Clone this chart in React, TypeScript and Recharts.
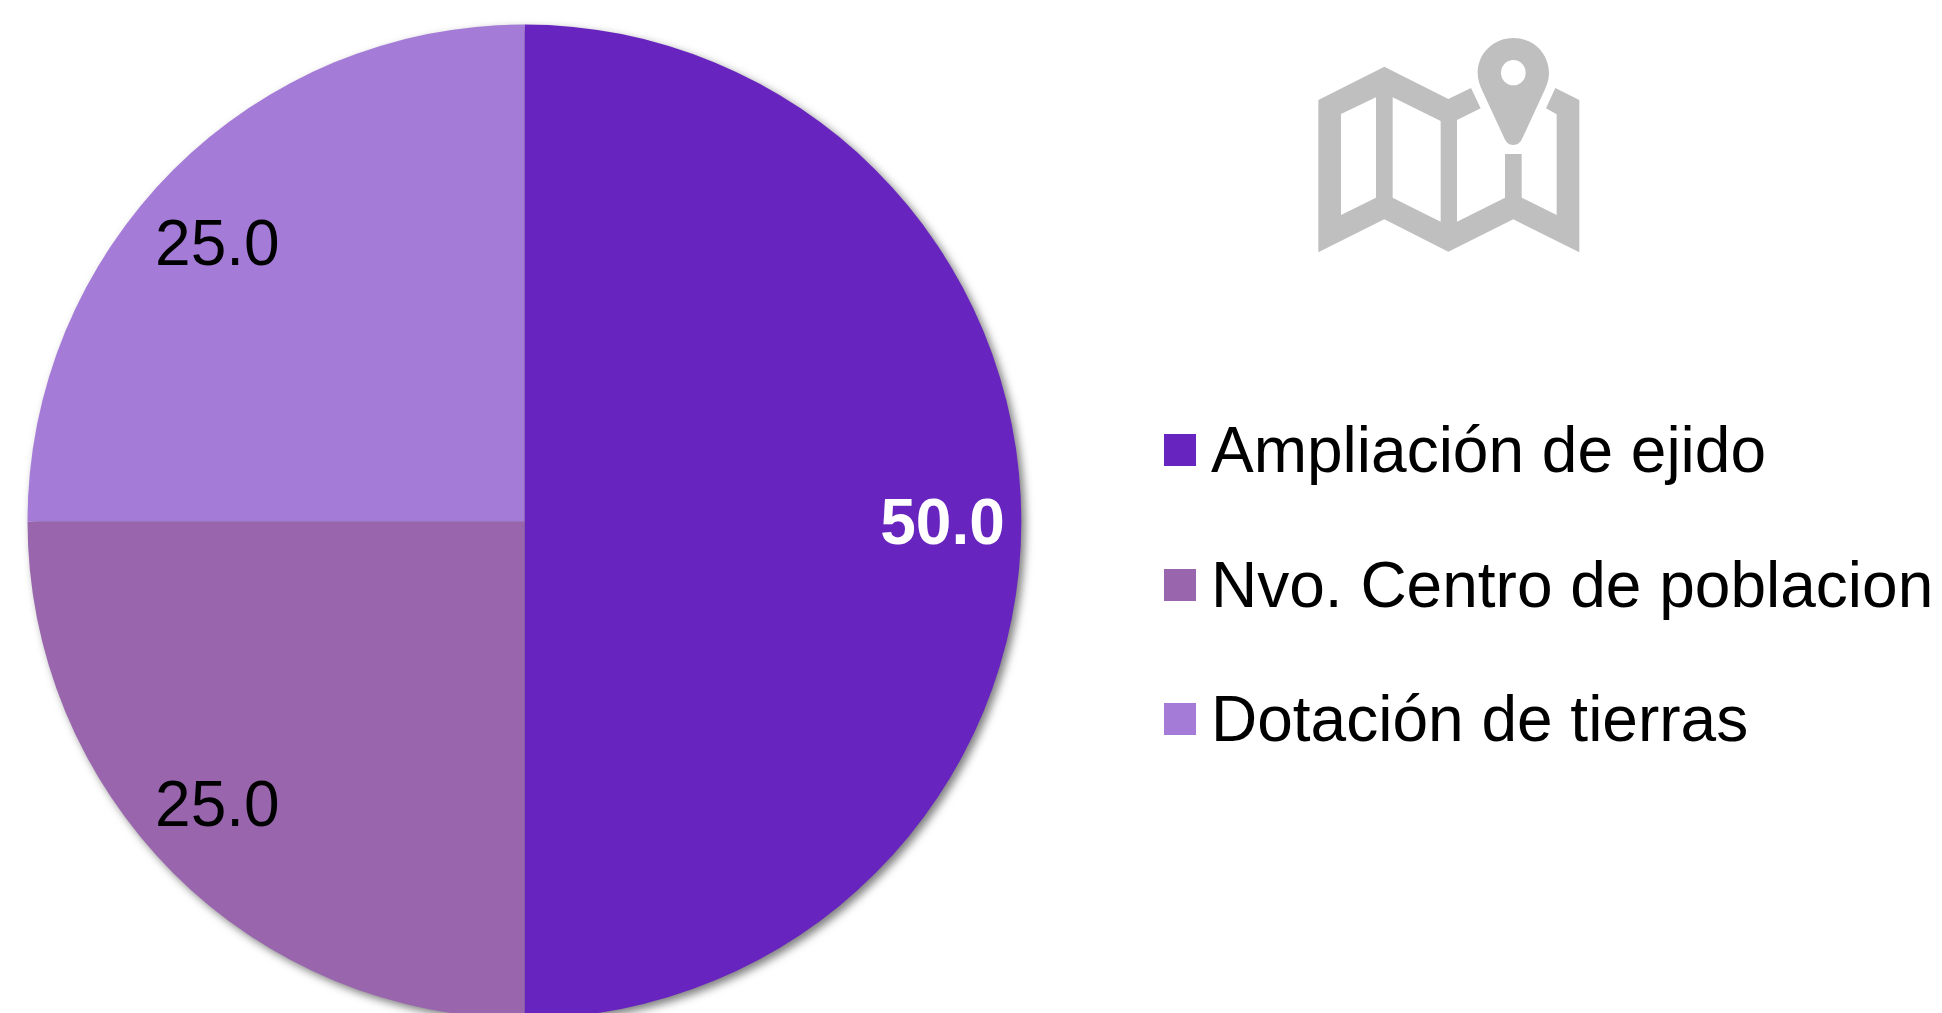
import { PieChart, Pie, Cell, Legend } from "recharts";

const categories = ["Ampliación de ejido", "Nvo. Centro de poblacion", "Dotación de tierras"];
const values = [50, 25, 25];
const colors = ["#6724BF", "#9966AE", "#A57BD8"];
const labelColors = ["#FFFFFF", "#000000", "#000000"];
const labelWeights = ["bold", "normal", "normal"];
// hand placed in the original, so each label gets a small nudge
const labelNudgeX = [2, -13, -13];
const labelNudgeY = [0, -12, 16];

const pieData = categories.map((name, i) => ({ name, value: values[i] }));

const FONT = '"Liberation Sans", Arial, sans-serif';
const RADIAN = Math.PI / 180;

function renderSliceLabel({ cx, cy, midAngle, outerRadius, index, value }: any) {
  const r = outerRadius - 81;
  const x = cx + r * Math.cos(-midAngle * RADIAN) + labelNudgeX[index];
  const y = cy + r * Math.sin(-midAngle * RADIAN) + labelNudgeY[index];
  return (
    <text
      x={x}
      y={y}
      fill={labelColors[index]}
      fontFamily={FONT}
      fontSize={64}
      fontWeight={labelWeights[index]}
      textAnchor="middle"
      dominantBaseline="central"
    >
      {value.toFixed(1)}
    </text>
  );
}

function LegendList({ payload }: any) {
  return (
    <div style={{ fontFamily: FONT, fontSize: 64, color: "#000" }}>
      {(payload || []).map((entry: any) => (
        <div key={entry.value} style={{ display: "flex", alignItems: "center", height: 134.5, whiteSpace: "nowrap" }}>
          <span style={{ width: 32, height: 32, marginRight: 15, backgroundColor: entry.color, display: "inline-block" }} />
          <span>{entry.value}</span>
        </div>
      ))}
    </div>
  );
}

function MapIcon() {
  return (
    <svg
      width={340}
      height={250}
      viewBox="0 0 1020 750"
      style={{ position: "absolute", left: 1280, top: 20 }}
    >
      <path
        fill="#BFBFBF"
        fillRule="evenodd"
        d="M115,240 L313,140 L505,237 L573,204 L602,265 L531,300 L531,605 L675,533 L675,402 L725,402 L725,533 L830,585 L830,283 L798,265 L826,204 L898,240 L898,697 L700,598 L505,695 L313,598 L115,697 Z M183,282 L288,232 L288,533 L183,585 Z M338,232 L482,303 L482,605 L338,533 Z"
      />
      <path
        fill="#BFBFBF"
        fillRule="evenodd"
        d="M700,54 C760,54 807,100 807,160 C807,180 800,197 793,212 L727,355 C720,370 712,375 700,375 C688,375 680,370 673,355 L607,212 C600,197 593,180 593,160 C593,100 640,54 700,54 Z M700,120 A37,38 0 1 0 700,196 A37,38 0 1 0 700,120 Z"
      />
    </svg>
  );
}

export default function App() {
  return (
    <div style={{ position: "fixed", left: 0, top: 0, width: 1942, height: 1013, overflow: "hidden", background: "#fff" }}>
      <style>{`g:has(> .recharts-pie-sector) { filter: drop-shadow(4px 4px 4px rgba(0,0,0,0.5)); }`}</style>
      <PieChart width={1942} height={1013} margin={{ top: 0, right: 0, bottom: 0, left: 0 }}>
        <Pie
          data={pieData}
          dataKey="value"
          nameKey="name"
          cx={524.5}
          cy={521.5}
          innerRadius={0}
          outerRadius={497}
          startAngle={90}
          endAngle={-270}
          stroke="none"
          labelLine={false}
          label={renderSliceLabel}
          isAnimationActive={false}
        >
          {pieData.map((d, i) => (
            <Cell key={d.name} fill={colors[i]} />
          ))}
        </Pie>
        <Legend
          content={<LegendList />}
          itemSorter={null}
          wrapperStyle={{ position: "absolute", left: 1164, top: 383, right: "auto", bottom: "auto", width: 778 }}
        />
      </PieChart>
      <MapIcon />
    </div>
  );
}
